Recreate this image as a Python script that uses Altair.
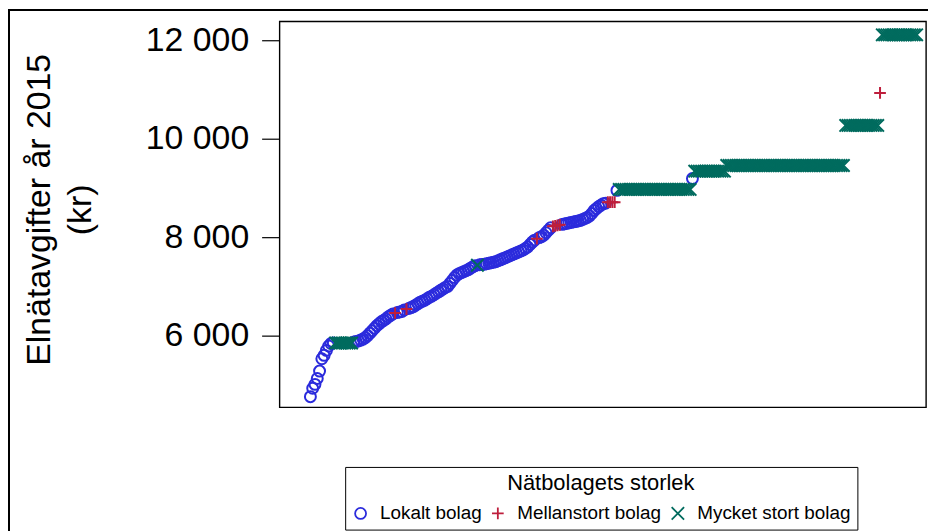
import altair as alt
import pandas as pd

LOKALT = "Lokalt bolag"
MELLAN = "Mellanstort bolag"
MYCKET = "Mycket stort bolag"
categories = [LOKALT, MELLAN, MYCKET]
colors = ["#2B2BDC", "#BE1E3C", "#006B5E"]

# Sorted network fees (kr), read left to right, in runs by company size
seg01_lokalt = [4760, 4930, 5010, 5130, 5280, 5530, 5600, 5700, 5790, 5840, 5850]
seg02_mycket = [5850] * 8
seg03_lokalt = [5870, 5880, 5890, 5910, 5930, 5960, 6000, 6050, 6100, 6150,
                6200, 6240, 6280, 6310, 6340, 6380, 6410, 6440]
seg04_mellan = [6460]
seg05_lokalt = [6470, 6480, 6490, 6520]
seg06_mellan = [6540]
seg07_lokalt = [6550, 6570, 6590, 6620, 6650, 6680, 6700, 6720, 6750, 6780,
                6800, 6830, 6860, 6890, 6920, 6950, 6980, 7000, 7060, 7120,
                7180, 7230, 7260, 7280, 7300, 7320, 7340, 7370, 7400, 7420]
seg08_mycket = [7430]
seg09_lokalt = [7440, 7445, 7450, 7460, 7470, 7480, 7490, 7500, 7520, 7540,
                7560, 7580, 7600, 7620, 7640, 7660, 7680, 7700, 7720, 7740,
                7770, 7800, 7850, 7900, 7940]
seg10_mellan = [7970]
seg11_lokalt = [7990, 8010, 8040, 8090, 8140, 8190]
seg12_mellan = [8220, 8230, 8240, 8250]
seg13_lokalt = [8260, 8270, 8280, 8290, 8300, 8310, 8320, 8330, 8340, 8360,
                8380, 8400, 8430, 8480, 8540, 8580, 8620, 8650, 8680, 8690]
seg14_mellan = [8710] * 4
seg15_lokalt = [8950]
seg16_mycket = [8970] * 32
seg17_lokalt = [9190]
seg18_mycket = [9340] * 14
seg19_mycket = [9455] * 52
seg20_mycket = [10270] * 15
seg21_mellan = [10930]
seg22_mycket = [12110] * 16

segments = [
    (LOKALT, seg01_lokalt), (MYCKET, seg02_mycket), (LOKALT, seg03_lokalt),
    (MELLAN, seg04_mellan), (LOKALT, seg05_lokalt), (MELLAN, seg06_mellan),
    (LOKALT, seg07_lokalt), (MYCKET, seg08_mycket), (LOKALT, seg09_lokalt),
    (MELLAN, seg10_mellan), (LOKALT, seg11_lokalt), (MELLAN, seg12_mellan),
    (LOKALT, seg13_lokalt), (MELLAN, seg14_mellan), (LOKALT, seg15_lokalt),
    (MYCKET, seg16_mycket), (LOKALT, seg17_lokalt), (MYCKET, seg18_mycket),
    (MYCKET, seg19_mycket), (MYCKET, seg20_mycket), (MELLAN, seg21_mellan),
    (MYCKET, seg22_mycket),
]

rows = []
for cat, vals in segments:
    for v in vals:
        rows.append({"rank": len(rows) + 1, "avgift": v, "storlek": cat,
                     "lager": categories.index(cat)})
df = pd.DataFrame(rows)

y_ticks = [6000, 8000, 10000, 12000]
FONT = "Liberation Sans"

points = alt.Chart(df).mark_point(filled=False, strokeWidth=2, opacity=1).encode(
    x=alt.X("rank:Q", axis=None,
            scale=alt.Scale(domain=[-12.5, 270.1], nice=False, zero=False)),
    y=alt.Y("avgift:Q",
            scale=alt.Scale(domain=[4545, 12384], nice=False, zero=False),
            axis=alt.Axis(values=y_ticks,
                          labelExpr="replace(format(datum.value, ',d'), ',', ' ')",
                          title=["Elnätavgifter år 2015", "(kr)"],
                          titleFontSize=34, titleFontWeight="normal", titleColor="black",
                          titleLineHeight=41, titleAngle=270, titleAlign="center",
                          titleBaseline="top", titleX=-258, titleY=189, titleLimit=1000,
                          labelFontSize=34, labelColor="black", labelPadding=13,
                          tickSize=18, tickColor="black", tickWidth=1.2,
                          domain=False, grid=False)),
    color=alt.Color("storlek:N", scale=alt.Scale(domain=categories, range=colors),
                    legend=alt.Legend(title="Nätbolagets storlek", orient="none",
                                      legendX=66, legendY=448, direction="horizontal",
                                      titleAnchor="middle", titleFontSize=22,
                                      titleFontWeight="normal", titleColor="black",
                                      titleLimit=1000,
                                      labelFontSize=19, labelColor="black",
                                      symbolStrokeWidth=1.8, symbolSize=130,
                                      strokeColor="black", fillColor="white",
                                      padding=6, columnPadding=6, labelOffset=10,
                                      titlePadding=9)),
    shape=alt.Shape("storlek:N",
                    scale=alt.Scale(domain=categories,
                                    range=["circle", "M-1,0H1M0,-1V1", "M-1,-1L1,1M-1,1L1,-1"])),
    size=alt.Size("storlek:N", scale=alt.Scale(domain=categories, range=[121, 156, 180]),
                  legend=None),
    order=alt.Order("lager:Q"),
)

border = alt.Chart(df).mark_rect(filled=False, stroke="black", strokeWidth=1.2).encode(
    x=alt.value(-272.5), x2=alt.value(654.5), y=alt.value(-11.5), y2=alt.value(540)
)

chart = alt.layer(points, border).properties(
    width=650, height=388,
    padding={"left": 273, "top": 12, "right": 2, "bottom": 123},
    autosize=alt.AutoSizeParams(type="none"),
).configure(font=FONT).configure_view(
    stroke="black", strokeWidth=1.4
)

chart.save("out.html", embed_options={"renderer": "svg", "actions": False})
